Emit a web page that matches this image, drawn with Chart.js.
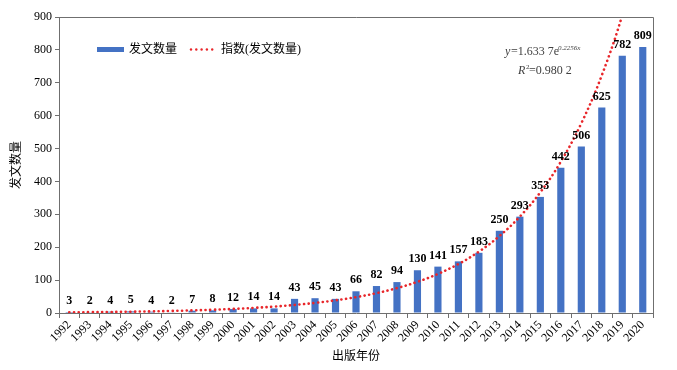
<!DOCTYPE html>
<html>
<head>
<meta charset="utf-8">
<script src="https://cdn.jsdelivr.net/npm/chart.js@4.4.1/dist/chart.umd.min.js"></script>
<style>
  html, body { margin: 0; padding: 0; background: #fff; }
  #wrap { width: 677px; height: 370px; }
</style>
</head>
<body>
<div id="wrap"><canvas id="chart"></canvas></div>
<script>
const years = ['1992','1993','1994','1995','1996','1997','1998','1999','2000','2001','2002','2003','2004','2005','2006','2007','2008','2009','2010','2011','2012','2013','2014','2015','2016','2017','2018','2019','2020'];
const paperCounts = [3, 2, 4, 5, 4, 2, 7, 8, 12, 14, 14, 43, 45, 43, 66, 82, 94, 130, 141, 157, 183, 250, 293, 353, 442, 506, 625, 782, 809];
// trend values (exponential fit shown on the chart)
const trendCounts = [2.0, 2.6, 3.2, 4.0, 5.0, 6.3, 7.9, 9.9, 12.4, 15.6, 19.5, 24.5, 30.7, 38.5, 48.2, 60.4, 75.7, 94.8, 118.8, 148.9, 186.6, 233.9, 293.1, 367.2, 460.2, 576.7, 722.6, 905.5, 1134.7];
const yTicks = [0, 100, 200, 300, 400, 500, 600, 700, 800, 900];

const serif = '"Liberation Serif", "Times New Roman", "Noto Sans CJK SC", serif';
const cjk = '"Liberation Serif", "Noto Sans CJK SC", serif';
const blue = '#4472c4';
const red = '#e8262a';
const axisGray = '#6f6f6f';

// labels over bars, legend, equation and frame
const extras = {
  id: 'extras',
  afterDatasetsDraw(chart) {
    const ctx = chart.ctx;
    const area = chart.chartArea;
    ctx.save();
    // top and right frame lines
    ctx.strokeStyle = axisGray;
    ctx.lineWidth = 1;
    ctx.beginPath();
    ctx.moveTo(area.left, area.top + 0.5);
    ctx.lineTo(area.right + 0.5, area.top + 0.5);
    ctx.lineTo(area.right + 0.5, area.bottom);
    ctx.stroke();

    // value labels
    const meta = chart.getDatasetMeta(1);
    ctx.fillStyle = '#000';
    ctx.font = 'bold 12px ' + serif;
    ctx.textAlign = 'center';
    ctx.textBaseline = 'bottom';
    meta.data.forEach((bar, i) => {
      ctx.fillText(paperCounts[i], bar.x, bar.y - 5);
    });

    // legend
    ctx.fillStyle = blue;
    ctx.fillRect(97, 47, 27, 5);
    ctx.fillStyle = '#000';
    ctx.font = '12px ' + cjk;
    ctx.textAlign = 'left';
    ctx.textBaseline = 'middle';
    ctx.fillText('发文数量', 129, 49.5);
    ctx.fillStyle = red;
    for (let k = 0; k < 5; k++) {
      ctx.beginPath();
      ctx.arc(191 + k * 5.3, 49.5, 1.2, 0, Math.PI * 2);
      ctx.fill();
    }
    ctx.fillStyle = '#000';
    ctx.fillText('指数(发文数量)', 221, 49.5);

    // fit equation
    ctx.fillStyle = '#404040';
    ctx.textAlign = 'left';
    ctx.font = 'italic 12px ' + serif;
    ctx.fillText('y', 505, 52);
    ctx.font = '12px ' + serif;
    ctx.fillText('=1.633 7e', 511, 52);
    ctx.font = 'italic 7px ' + serif;
    ctx.fillText('0.2256x', 558, 48);
    ctx.font = 'italic 12px ' + serif;
    ctx.fillText('R', 518, 71);
    ctx.font = '7px ' + serif;
    ctx.fillText('2', 526, 67);
    ctx.font = '12px ' + serif;
    ctx.fillText('=0.980 2', 529, 71);
    ctx.restore();
  }
};

new Chart(document.getElementById('chart'), {
  type: 'bar',
  data: {
    labels: years,
    datasets: [
      {
        type: 'line',
        label: '指数(发文数量)',
        data: trendCounts,
        borderColor: red,
        borderWidth: 2.6,
        borderDash: [0.1, 4.6],
        borderCapStyle: 'round',
        pointRadius: 0,
        tension: 0.4,
        fill: false,
        order: 0
      },
      {
        label: '发文数量',
        data: paperCounts,
        backgroundColor: blue,
        barPercentage: 0.35,
        categoryPercentage: 1,
        order: 1
      }
    ]
  },
  options: {
    responsive: true,
    maintainAspectRatio: false,
    animation: false,
    layout: { padding: { top: 17, right: 24, left: 0, bottom: 0 } },
    plugins: {
      legend: { display: false },
      tooltip: { enabled: false }
    },
    scales: {
      x: {
        offset: true,
        grid: {
          offset: true,
          drawOnChartArea: false,
          drawTicks: true,
          tickLength: 5,
          color: axisGray
        },
        border: { color: axisGray },
        ticks: {
          color: '#000',
          font: { family: serif, size: 12 },
          maxRotation: 45,
          minRotation: 45,
          autoSkip: false,
          padding: 0
        },
        title: {
          display: true,
          text: '出版年份',
          color: '#000',
          font: { family: cjk, size: 12 },
          padding: { top: 0, bottom: 6 }
        },
        afterFit(scale) { scale.height = 57; }
      },
      y: {
        min: 0,
        max: 900,
        afterBuildTicks(scale) { scale.ticks = yTicks.map(v => ({ value: v })); },
        grid: {
          drawOnChartArea: false,
          drawTicks: true,
          tickLength: 4,
          color: axisGray
        },
        border: { color: axisGray },
        ticks: {
          color: '#000',
          font: { family: serif, size: 12 },
          padding: 3
        },
        title: {
          display: true,
          text: '发文数量',
          color: '#000',
          font: { family: cjk, size: 12 },
          padding: { top: 10, bottom: 4 }
        },
        afterFit(scale) { scale.width = 59; }
      }
    }
  },
  plugins: [extras]
});
</script>
</body>
</html>
